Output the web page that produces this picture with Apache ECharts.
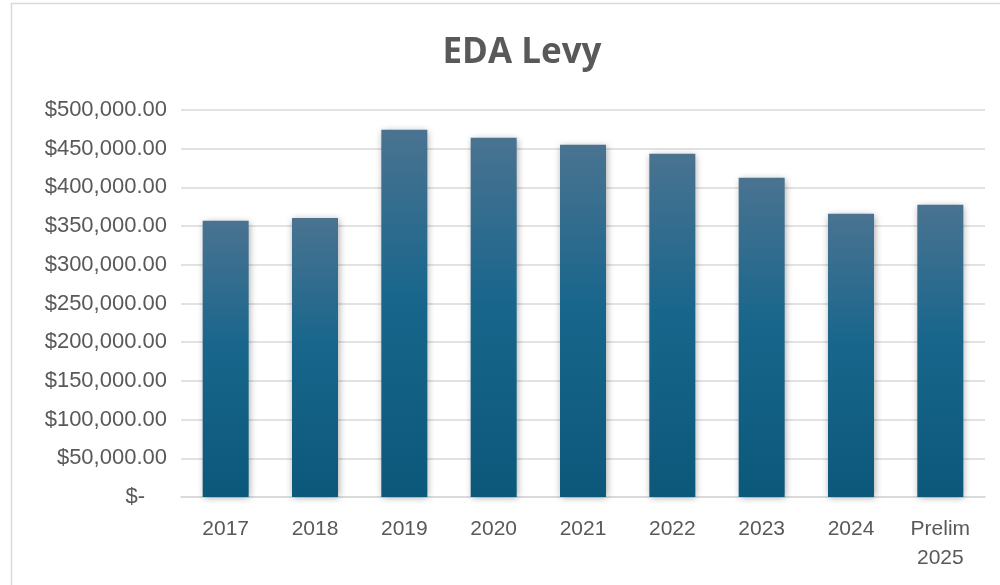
<!DOCTYPE html>
<html><head><meta charset="utf-8">
<script src="https://cdn.jsdelivr.net/npm/echarts@6/dist/echarts.min.js"></script>
<style>html,body{margin:0;padding:0;background:#fff}#c{width:1000px;height:585px}</style>
</head><body><div id="c"></div>
<script>
const categories = ['2017','2018','2019','2020','2021','2022','2023','2024','Prelim\n2025'];
const levyValues = [357000, 360500, 474500, 464000, 455000, 443500, 412500, 366000, 377500];
const yTicks = [0, 50000, 100000, 150000, 200000, 250000, 300000, 350000, 400000, 450000, 500000];

const chart = echarts.init(document.getElementById('c'), null, {renderer:'canvas'});
const txt = '#595959';
function fmt(v){
  if (v === 0) return '{z|$-}';
  return '$' + v.toLocaleString('en-US',{minimumFractionDigits:2, maximumFractionDigits:2});
}
chart.setOption({
  animation:false,
  backgroundColor:'#fff',
  graphic:[{type:'rect', shape:{x:11.5,y:3.5,width:1000,height:600}, style:{fill:'none', stroke:'#d9d9d9', lineWidth:1.5}, silent:true}],
  title:{text:'EDA Levy', left:517, top:31, textAlign:'center',
    textStyle:{fontFamily:'"Liberation Sans Narrow","Open Sans",sans-serif', fontWeight:'bold', fontSize:35, color:txt}},
  grid:{left:181, right:15, top:110, bottom:88},
  xAxis:{type:'category', data:categories,
    axisLine:{lineStyle:{color:'#d9d9d9', width:1.5}}, axisTick:{show:false},
    axisLabel:{color:txt, fontSize:21, fontFamily:'"Liberation Sans",Arial,sans-serif', margin:18, lineHeight:29, interval:0}},
  yAxis:{type:'value', min:yTicks[0], max:yTicks[yTicks.length-1], interval:yTicks[1]-yTicks[0],
    axisLine:{show:false}, axisTick:{show:false},
    splitLine:{lineStyle:{color:'#d9d9d9', width:1.5}},
    axisLabel:{color:txt, fontSize:22, fontFamily:'"Liberation Sans",Arial,sans-serif', margin:14, formatter:fmt,
      rich:{z:{color:txt, fontSize:22, fontFamily:'"Liberation Sans",Arial,sans-serif', padding:[0,22,0,0]}}}},
  series:[{type:'bar', data:levyValues, barWidth:46,
    itemStyle:{
      color:new echarts.graphic.LinearGradient(0,0,0,1,[{offset:0,color:'#4a7391'},{offset:0.45,color:'#19668c'},{offset:1,color:'#0b587b'}]),
      shadowBlur:7, shadowColor:'rgba(0,0,0,0.35)', shadowOffsetX:1, shadowOffsetY:1}}]
});
</script></body></html>
